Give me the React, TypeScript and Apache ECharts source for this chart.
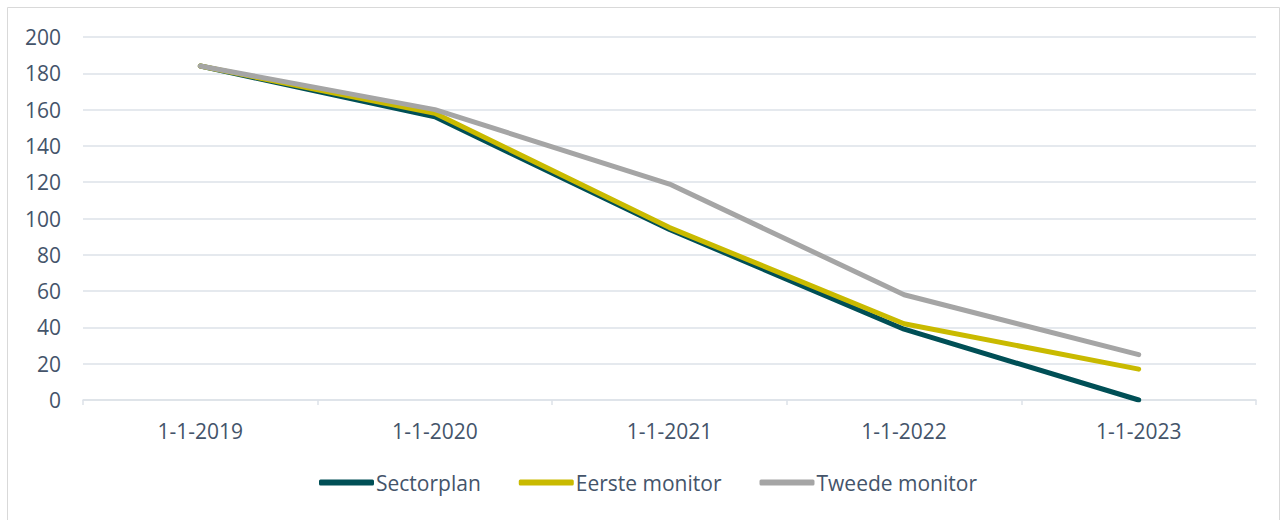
import React, { useEffect, useRef } from "react";
import * as echarts from "echarts";

const categories = ["1-1-2019", "1-1-2020", "1-1-2021", "1-1-2022", "1-1-2023"];
const sectorplan = [184, 156, 94, 39, 0];
const eersteMonitor = [184, 158, 95, 42, 17];
const tweedeMonitor = [184, 160, 119, 58, 25];
const seriesNames = ["Sectorplan", "Eerste monitor", "Tweede monitor"];

const FONT = "'Open Sans', sans-serif";
const TEXT = "#44546A";
const GRID = "#dde2e8";
const FS = 21;

export default function App() {
  const ref = useRef<HTMLDivElement>(null);
  useEffect(() => {
    if (!ref.current) return;
    const chart = echarts.init(ref.current, undefined, { renderer: "svg" });
    const mk = (name: string, data: number[], color: string) => ({
      name,
      type: "line",
      data,
      symbol: "none",
      showSymbol: false,
      itemStyle: { color },
      lineStyle: { color, width: 5, cap: "round", join: "round" },
    });
    chart.setOption({
      animation: false,
      textStyle: { fontFamily: FONT },
      graphic: [
        {
          type: "rect",
          shape: { x: 7.5, y: 7.5, width: 1272, height: 530 },
          style: { fill: "none", stroke: "#d9d9d9", lineWidth: 1 },
          silent: true,
        },
      ],
      grid: { left: 83, right: 31, top: 37, bottom: 120, containLabel: false },
      legend: {
        bottom: 22,
        left: 314,
        icon: "roundRect",
        itemWidth: 55,
        itemHeight: 6,
        itemGap: 38,
        textStyle: { color: TEXT, fontSize: FS, fontFamily: FONT, padding: [0, 0, 0, -3] },
        data: seriesNames,
      },
      xAxis: {
        type: "category",
        data: categories,
        boundaryGap: true,
        axisLine: { show: true, lineStyle: { color: GRID, width: 1.5 } },
        axisTick: { show: true, alignWithLabel: false, length: 5, lineStyle: { color: GRID, width: 1.5 } },
        axisLabel: { color: TEXT, fontSize: FS, fontFamily: FONT, margin: 20 },
        splitLine: { show: false },
      },
      yAxis: {
        type: "value",
        min: 0,
        max: 200,
        interval: 20,
        axisLine: { show: false },
        axisTick: { show: false },
        axisLabel: { color: TEXT, fontSize: FS, fontFamily: FONT, margin: 22 },
        splitLine: { lineStyle: { color: GRID, width: 1.5 } },
      },
      series: [
        mk(seriesNames[0], sectorplan, "#004F56"),
        mk(seriesNames[1], eersteMonitor, "#C9BA00"),
        mk(seriesNames[2], tweedeMonitor, "#A5A5A5"),
      ],
    });
    return () => chart.dispose();
  }, []);
  return (
    <div
      ref={ref}
      style={{ position: "absolute", left: 0, top: 0, width: 1287, height: 520, background: "#fff" }}
    />
  );
}
